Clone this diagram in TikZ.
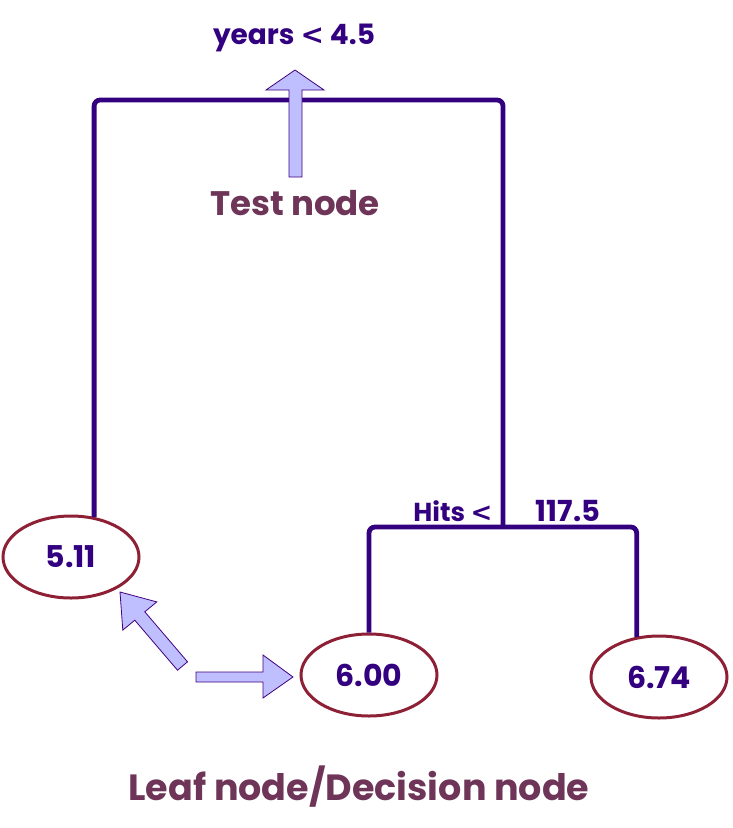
\documentclass[tikz,border=0pt]{standalone}
\usepackage{fontspec}
\setmainfont{Poppins}
\newfontfamily\lessfont{DejaVu Sans}
\newcommand{\lessthan}{{\lessfont\bfseries <}}
\definecolor{treeink}{HTML}{330080}
\definecolor{plum}{HTML}{6E3558}
\definecolor{leafred}{HTML}{8E2035}
\definecolor{lavender}{HTML}{BFBFFF}
\definecolor{arrowink}{HTML}{40007F}
\tikzset{
  branch/.style={treeink, line width=4.8pt, rounded corners=6pt},
  leaf/.style={ellipse, draw=leafred, line width=3pt, text=treeink,
    minimum width=136pt, minimum height=82pt, font=\fontsize{30}{34}\selectfont\bfseries},
  splitlabel/.style={text=treeink, font=\fontsize{26}{30}\selectfont\bfseries},
  caption/.style={text=plum, font=\fontsize{34}{40}\selectfont\bfseries},
  blockarr/.style={fill=lavender, draw=arrowink, line width=0.8pt, line join=miter}
}
\usetikzlibrary{shapes.geometric}
\begin{document}
\begin{tikzpicture}[x=1pt, y=-1pt]
    \useasboundingbox (0,0) rectangle (733,828);

    % Leaves
    \node[leaf] (leafA) at (71,557) {5.11};
    \node[leaf] (leafB) at (369,675) {6.00};
    \node[leaf] (leafC) at (659,677) {6.74};

    % Splits
    \coordinate (top) at (298,100);
    \coordinate (split) at (503,527);
    \draw[branch] (leafA.60) |- (top) -| (split);
    \draw[branch] (leafB.north) |- (split) -| (leafC.119);

    % Labels
    \node[splitlabel, font=\fontsize{28}{32}\selectfont\bfseries] (rootlabel) at (294,38) {years \lessthan{} 4.5};
    \node[splitlabel, anchor=east] (hitslabel) at (496,511) {Hits \lessthan};
    \node[splitlabel, font=\fontsize{29}{32}\selectfont\bfseries] (hitsvalue) at (568,511) {117.5};
    \node[caption] (testlabel) at (295,203) {Test node};
    \node[caption, font=\fontsize{36.5}{42}\selectfont\bfseries] (leaflabel) at (359,787) {Leaf node/Decision node};

    % Block arrows
    \draw[blockarr] (289,177) -- (302,177) -- (302,90) -- (324,90) -- (295,70)
        -- (266,90) -- (289,90) -- cycle;
    \draw[blockarr] (196,672) -- (263,672) -- (263,655) -- (293,677) -- (263,698)
        -- (263,682) -- (196,682) -- cycle;
    \draw[blockarr] (187.5,661.8) -- (144.8,611.8) -- (156.8,601.9) -- (120,592)
        -- (122.8,630.1) -- (134.8,620.2) -- (177.5,670.2) -- cycle;
\end{tikzpicture}
\end{document}
